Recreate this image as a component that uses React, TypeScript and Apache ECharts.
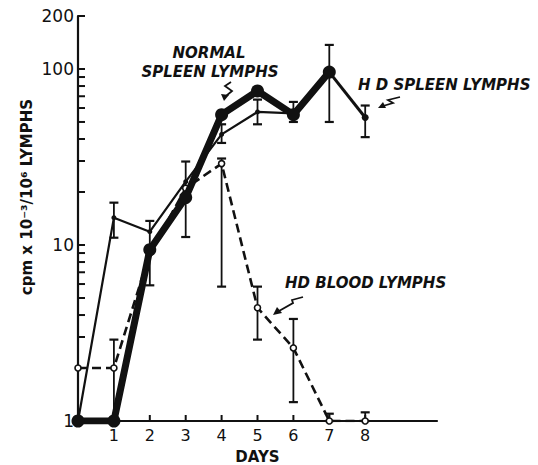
import React, { useEffect, useRef } from "react";
import * as echarts from "echarts";

// ---- data ----
const hdSpleenDays = [0, 1, 2, 3, 4, 5, 6, 7];
const hdSpleenValues = [1, 1, 9.4, 18.6, 55, 75, 55, 96];
const hdSpleenTailDays = [7, 8];
const hdSpleenTailValues = [96, 53];

const normalDays = [0, 1, 2, 3, 4, 5, 6];
const normalValues = [1, 14.3, 11.9, 22.9, 42.5, 57, 56];

const bloodDays = [0, 1, 2, 3, 4, 5, 6, 7, 8];
const bloodValues = [2, 2, 9, 21, 29, 4.4, 2.6, 1, 1];

// error bars: [day, low, high]
const errDays = [1, 4, 5, 2, 3, 6, 7, 8, 1, 4, 5, 6, 7, 8];
const errLow = [11, 38, 48.5, 5.9, 11.1, 50, 50, 41, 1, 5.8, 2.9, 1.28, 1, 1];
const errHigh = [17.4, 48.5, 67, 13.7, 29.8, 65, 137, 62, 2.9, 31, 5.8, 3.8, 1.1, 1.12];

const xTickLabels = [1, 2, 3, 4, 5, 6, 7, 8];
const yTickLabels = [1, 10, 100, 200];
const yMinorTicks = [2, 3, 4, 5, 6, 7, 8, 9, 10, 20, 30, 40, 50, 60, 70, 80, 90, 100, 200];

const FONT = "DejaVu Sans";

export default function App() {
  const ref = useRef<HTMLDivElement>(null);
  useEffect(() => {
    if (!ref.current) return;
    const chart = echarts.init(ref.current, null, { renderer: "svg" });
    const pairs = (xs: number[], ys: number[]) => xs.map((x, i) => [x, ys[i]]);
    // kind 0 = error bar, 1 = y-axis minor tick, 2 = x-axis tick
    const markData = [
      ...errDays.map((d, i) => [d, errLow[i], errHigh[i], 0]),
      ...yMinorTicks.map((v) => [0, v, v, 1]),
      ...xTickLabels.map((d) => [d, 1, 1, 2]),
    ];
    const annText = {
      fill: "#111",
      font: `italic bold 15px "${FONT}"`,
    };
    chart.setOption({
      animation: false,
      backgroundColor: "#fff",
      grid: { left: 78, right: 101, top: 16, bottom: 44, containLabel: false, outerBoundsMode: "none" },
      xAxis: {
        type: "value",
        min: 0,
        max: 10,
        interval: 1,
        name: "DAYS",
        nameLocation: "middle",
        nameGap: 28,
        nameTextStyle: { fontFamily: FONT, fontSize: 15, fontWeight: "bold", color: "#111" },
        axisLine: { lineStyle: { color: "#111", width: 2.2 } },
        axisTick: { show: false },
        axisLabel: { customValues: xTickLabels, fontFamily: FONT, fontSize: 16, color: "#111", margin: 6 },
        splitLine: { show: false },
      },
      yAxis: {
        type: "log",
        logBase: 10,
        min: 1,
        max: 200,
        axisLine: { show: true, lineStyle: { color: "#111", width: 2.2 } },
        axisTick: { show: false },
        axisLabel: { customValues: yTickLabels, fontFamily: FONT, fontSize: 17, color: "#111", margin: 4 },
        splitLine: { show: false },
      },
      graphic: [
        {
          type: "text",
          x: 27,
          y: 197,
          rotation: Math.PI / 2,
          style: {
            text: "cpm x 10\u207B\u00B3/10\u2076 LYMPHS",
            fill: "#111",
            font: `bold 15px "${FONT}"`,
            align: "center",
            verticalAlign: "middle",
          },
        },
        { type: "text", x: 209, y: 53, style: { ...annText, text: "NORMAL", align: "center", verticalAlign: "middle" } },
        { type: "text", x: 210, y: 72, style: { ...annText, text: "SPLEEN LYMPHS", align: "center", verticalAlign: "middle" } },
        { type: "text", x: 358, y: 85, style: { ...annText, text: "H D SPLEEN LYMPHS", align: "left", verticalAlign: "middle" } },
        { type: "text", x: 285, y: 283, style: { ...annText, text: "HD BLOOD LYMPHS", align: "left", verticalAlign: "middle" } },
        // arrows
        { type: "polyline", shape: { points: [[231, 82], [225, 86], [232, 91], [226, 96]] }, style: { stroke: "#111", lineWidth: 1.8, fill: "none" } },
        { type: "polygon", shape: { points: [[224, 101], [221, 94], [229, 95]] }, style: { fill: "#111" } },
        { type: "polyline", shape: { points: [[400, 97], [388, 100], [393, 103], [383, 106]] }, style: { stroke: "#111", lineWidth: 1.8, fill: "none" } },
        { type: "polygon", shape: { points: [[378, 108], [383, 102], [386, 108]] }, style: { fill: "#111" } },
        { type: "polyline", shape: { points: [[303, 297], [292, 300], [293, 303], [279, 311]] }, style: { stroke: "#111", lineWidth: 1.8, fill: "none" } },
        { type: "polygon", shape: { points: [[273, 315], [277, 307], [282, 313]] }, style: { fill: "#111" } },
      ],
      series: [
        {
          // error bars and axis ticks, all placed through the axis scales
          type: "custom",
          z: 1,
          clip: false,
          encode: { x: 0, y: [1, 2] },
          data: markData,
          renderItem: (params: any, api: any) => {
            const x = api.value(0);
            const kind = api.value(3);
            const lo = api.coord([x, api.value(1)]);
            const hi = api.coord([x, api.value(2)]);
            const st = { stroke: "#111", lineWidth: 1.8 };
            if (kind === 1) {
              return { type: "line", shape: { x1: lo[0], y1: lo[1], x2: lo[0] + 7, y2: lo[1] }, style: { stroke: "#111", lineWidth: 2 } };
            }
            if (kind === 2) {
              return { type: "line", shape: { x1: lo[0], y1: lo[1], x2: lo[0], y2: lo[1] - 6 }, style: { stroke: "#111", lineWidth: 2 } };
            }
            const w = 4.5;
            return {
              type: "group",
              children: [
                { type: "line", shape: { x1: hi[0], y1: hi[1], x2: lo[0], y2: lo[1] }, style: st },
                { type: "line", shape: { x1: hi[0] - w, y1: hi[1], x2: hi[0] + w, y2: hi[1] }, style: { ...st, lineWidth: 2.2 } },
                { type: "line", shape: { x1: lo[0] - w, y1: lo[1], x2: lo[0] + w, y2: lo[1] }, style: { ...st, lineWidth: 2.2 } },
              ],
            };
          },
        },
        {
          name: "NORMAL SPLEEN LYMPHS",
          type: "line",
          z: 2,
          data: pairs(normalDays, normalValues),
          symbol: "circle",
          symbolSize: 5,
          itemStyle: { color: "#111" },
          lineStyle: { color: "#111", width: 2.2 },
        },
        {
          name: "HD BLOOD LYMPHS",
          type: "line",
          z: 3,
          data: pairs(bloodDays, bloodValues),
          symbol: "circle",
          symbolSize: 6,
          itemStyle: { color: "#fff", borderColor: "#111", borderWidth: 1.6 },
          lineStyle: { color: "#111", width: 2.6, type: [9, 5] },
        },
        {
          name: "HD SPLEEN LYMPHS",
          type: "line",
          z: 4,
          data: pairs(hdSpleenTailDays, hdSpleenTailValues),
          symbol: "circle",
          symbolSize: 7,
          itemStyle: { color: "#111" },
          lineStyle: { color: "#111", width: 3 },
        },
        {
          name: "HD SPLEEN LYMPHS",
          type: "line",
          z: 5,
          data: pairs(hdSpleenDays, hdSpleenValues),
          symbol: "circle",
          symbolSize: 13,
          itemStyle: { color: "#111" },
          lineStyle: { color: "#111", width: 7 },
        },
      ],
    });
    return () => chart.dispose();
  }, []);
  return (
    <div
      ref={ref}
      style={{ position: "fixed", left: 0, top: 0, width: 538, height: 465, background: "#fff" }}
    />
  );
}
